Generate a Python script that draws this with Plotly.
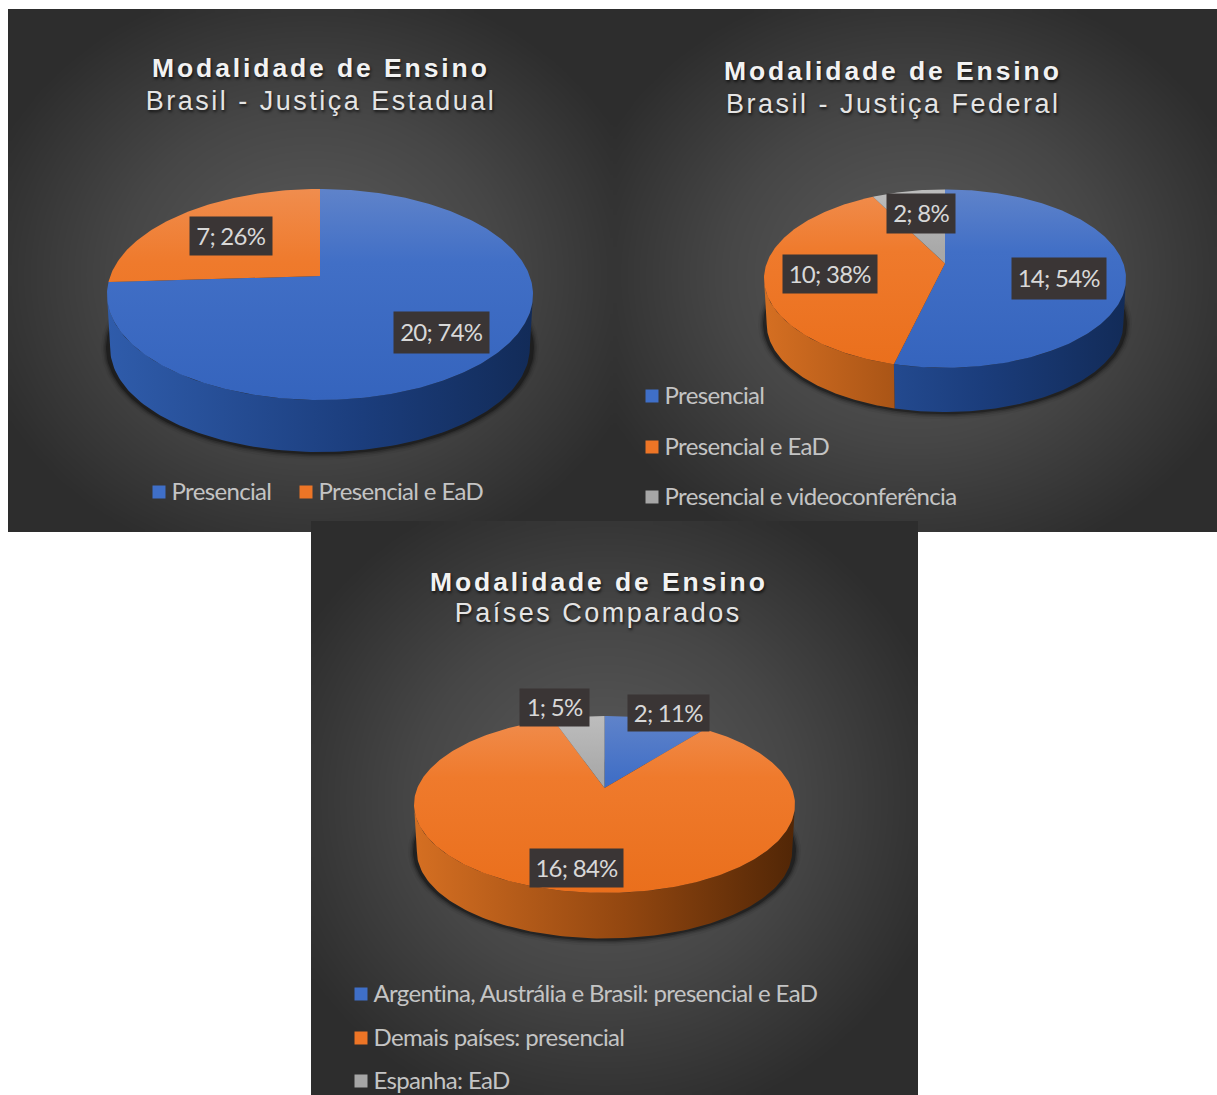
import numpy as np
import plotly.graph_objects as go

# Teaching modality counts, clockwise from twelve o'clock
estadual_labels = ["Presencial", "Presencial e EaD"]
estadual_values = [20, 7]
federal_labels = ["Presencial", "Presencial e EaD", "Presencial e videoconferência"]
federal_values = [14, 10, 2]
paises_labels = ["Argentina, Austrália e Brasil: presencial e EaD", "Demais países: presencial", "Espanha: EaD"]
paises_values = [2, 16, 1]

TITLE = "Modalidade de Ensino"
SUBTITLES = ["Brasil - Justiça Estadual", "Brasil - Justiça Federal", "Países Comparados"]

W, H = 1217, 1095
LABEL_FONT = "Lato"
TITLE_FONT = "Liberation Sans"

TOP_SCALES = [
    [[0, "#5f83ca"], [0.35, "#416fc6"], [1, "#3564bd"]],
    [[0, "#f08d4e"], [0.35, "#ef7a2c"], [1, "#ea6f1c"]],
    [[0, "#bdbdbd"], [0.35, "#a8a8a8"], [1, "#9d9d9d"]],
]
SIDE_SCALES = [
    [[0, "#2f5cab"], [0.6, "#1b3d7c"], [1, "#122b58"]],
    [[0, "#d56f22"], [0.55, "#934710"], [1, "#512606"]],
    [[0, "#8f8f8f"], [0.5, "#6a6a6a"], [1, "#3c3c3c"]],
]
SWATCHES = ["#3f6fc8", "#ed7526", "#a6a6a6"]

panels = [
    dict(x=(8, 613), y=(9, 532), glow=(312, 275)),
    dict(x=(613, 1217), y=(9, 532), glow=(915, 275)),
    dict(x=(311, 918), y=(521, 1095), glow=(604, 800)),
]

charts = [
    dict(labels=estadual_labels, values=estadual_values, sub=SUBTITLES[0],
         cx=320, cy=294.5, rx=213, ry=105.5, k=0.175, bottom=452,
         title_xy=(320.5, 68), sub_y=101,
         boxes=[(394.5, 489, 312, 352.5), (190.5, 272, 216.5, 254.5)],
         legend=[(153, 491), (300, 491)]),
    dict(labels=federal_labels, values=federal_values, sub=SUBTITLES[1],
         cx=945, cy=278.6, rx=181, ry=89.2, k=0.17, bottom=412,
         title_xy=(893, 71), sub_y=104,
         boxes=[(1012, 1105.5, 258, 299), (783.5, 877, 255, 293), (887, 955, 194.5, 233)],
         legend=[(646, 395), (646, 446), (646, 496)]),
    dict(labels=paises_labels, values=paises_values, sub=SUBTITLES[2],
         cx=604.5, cy=804.5, rx=190.5, ry=88.5, k=0.186, bottom=938.5,
         title_xy=(598.5, 582), sub_y=613,
         boxes=[(628, 708.5, 694.5, 730.5), (529.5, 622.5, 849, 887), (520, 589, 689, 726)],
         legend=[(355, 993), (355, 1037), (355, 1080)]),
]


def rim(theta, c):
    """Perspective view of a point on the pie's rim: a collineation that keeps the circle an ellipse."""
    u, v = np.sin(theta), np.cos(theta)
    d = 1 + c["k"] * v
    x = c["cx"] + c["rx"] * u * np.sqrt(1 - c["k"] ** 2) / d
    y = c["cy"] - c["ry"] * (v + c["k"]) / d
    return x, y


def add_panel(fig, p):
    # heatmap cells extend half a step past their centres, so inset the grid
    n = 90
    dx = (p["x"][1] - p["x"][0]) / n
    dy = (p["y"][1] - p["y"][0]) / n
    xs = p["x"][0] + dx * (np.arange(n) + 0.5)
    ys = p["y"][0] + dy * (np.arange(n) + 0.5)
    gx, gy = np.meshgrid(xs, ys)
    half_w = (p["x"][1] - p["x"][0]) / 2
    half_h = (p["y"][1] - p["y"][0]) / 2
    t = np.clip(np.hypot((gx - p["glow"][0]) / half_w, (gy - p["glow"][1]) / half_h) / 1.15, 0, 1)
    fig.add_trace(go.Heatmap(x=xs, y=ys, z=t, zmin=0, zmax=1, zsmooth="best", showscale=False,
                             hoverinfo="skip",
                             colorscale=[[0, "#5c5c5c"], [0.55, "#464646"], [1, "#2d2d2d"]]))


def add_pie(fig, c):
    vals = np.array(c["values"], dtype=float)
    edges = np.concatenate([[0], np.cumsum(vals) / vals.sum()]) * 2 * np.pi
    shift = c["bottom"] - c["cy"] - c["ry"] * 0.985

    # soft contact shadow under the disc
    a = np.linspace(0, 2 * np.pi, 200)
    for grow, alpha in [(6, 0.05), (4, 0.10), (2.5, 0.16), (1, 0.3)]:
        fig.add_trace(go.Scatter(
            x=c["cx"] + (c["rx"] + grow) * np.cos(a),
            y=c["cy"] + shift + (c["ry"] + grow) * np.sin(a),
            mode="lines", line=dict(width=0), fill="toself",
            fillcolor=f"rgba(0,0,0,{alpha})", hoverinfo="skip"))

    # outer wall, only where the rim faces the viewer
    lo = np.arccos(-c["k"])
    hi = 2 * np.pi - lo
    for i in range(len(vals)):
        s, e = max(edges[i], lo), min(edges[i + 1], hi)
        if e <= s:
            continue
        th = np.linspace(s, e, 120)
        x, y = rim(th, c)
        xb = c["cx"] + (x - c["cx"]) * 0.985
        yb = c["cy"] + (y - c["cy"]) * 0.985 + shift
        fig.add_trace(go.Scatter(
            x=np.concatenate([x, xb[::-1]]), y=np.concatenate([y, yb[::-1]]),
            mode="lines", line=dict(width=0), fill="toself", hoverinfo="skip",
            fillgradient=dict(type="horizontal", colorscale=SIDE_SCALES[i],
                              start=c["cx"] - c["rx"], stop=c["cx"] + c["rx"])))

    # top face wedges
    for i in range(len(vals)):
        th = np.linspace(edges[i], edges[i + 1], max(int(400 * vals[i] / vals.sum()), 20))
        x, y = rim(th, c)
        ax, ay = c["cx"], c["cy"] - c["ry"] * c["k"]
        fig.add_trace(go.Scatter(
            x=np.concatenate([[ax], x, [ax]]), y=np.concatenate([[ay], y, [ay]]),
            mode="lines", line=dict(width=0), fill="toself", hoverinfo="skip",
            fillgradient=dict(type="vertical", colorscale=TOP_SCALES[i],
                              start=c["cy"] - c["ry"], stop=c["cy"] + c["ry"])))

    # value labels on dark plates
    total = vals.sum()
    for v, (x0, x1, y0, y1) in zip(c["values"], c["boxes"]):
        fig.add_annotation(x=(x0 + x1) / 2, y=(y0 + y1) / 2, xref="x", yref="y",
                           text=f"{v}; {round(100 * v / total)}%", showarrow=False,
                           bgcolor="#3a3535", width=x1 - x0, height=y1 - y0, borderpad=0,
                           font=dict(family=LABEL_FONT, size=24, color="#d8d8d8"))

    # legend rows: swatch plus left-anchored text
    for i, (label, (lx, ly)) in enumerate(zip(c["labels"], c["legend"])):
        fig.add_trace(go.Scatter(x=[lx + 6], y=[ly + 1], mode="markers", hoverinfo="skip",
                                 marker=dict(symbol="square", size=13, color=SWATCHES[i], line=dict(width=0))))
        fig.add_trace(go.Scatter(x=[lx + 18.5], y=[ly + 2.5], mode="text", hoverinfo="skip",
                                 text=[label], textposition="middle right",
                                 textfont=dict(family=LABEL_FONT, size=24, color="#c4c4c4")))

    # heading lines
    tx, ty = c["title_xy"]
    fig.add_annotation(x=tx, y=ty, xref="x", yref="y", text=TITLE, showarrow=False,
                       font=dict(family=TITLE_FONT, size=26.5, weight="bold", color="#f2f2f2",
                                 shadow="1px 2px 3px rgba(0,0,0,0.7)"))
    fig.add_annotation(x=tx, y=c["sub_y"], xref="x", yref="y", text=c["sub"], showarrow=False,
                       font=dict(family=TITLE_FONT, size=27, color="#e4e4e4",
                                 shadow="1px 2px 3px rgba(0,0,0,0.7)"))


fig = go.Figure()
for p in panels:
    add_panel(fig, p)
for c in charts:
    add_pie(fig, c)

fig.update_layout(
    width=W, height=H, autosize=False, margin=dict(l=0, r=0, t=0, b=0),
    paper_bgcolor="white", plot_bgcolor="white", showlegend=False,
    xaxis=dict(range=[0, W], visible=False, fixedrange=True),
    yaxis=dict(range=[H, 0], visible=False, fixedrange=True),
)

# Headings are tracked out and body text tightened, which SVG text can do through CSS
heading_js = """
document.querySelectorAll('.annotation-text').forEach(function (t) {
  var s = t.textContent;
  if (s === 'Modalidade de Ensino') { t.style.letterSpacing = '2.9px'; }
  else if (s.indexOf('Brasil - ') === 0 || s === 'Países Comparados') { t.style.letterSpacing = '2.5px'; }
  else { t.style.letterSpacing = '-0.75px'; t.setAttribute('dy', '-0.8'); }
});
document.querySelectorAll('.textpoint text').forEach(function (t) {
  t.style.letterSpacing = '-0.65px';
});
"""
fig.write_html("out.html", post_script=heading_js, config={"displayModeBar": False})
